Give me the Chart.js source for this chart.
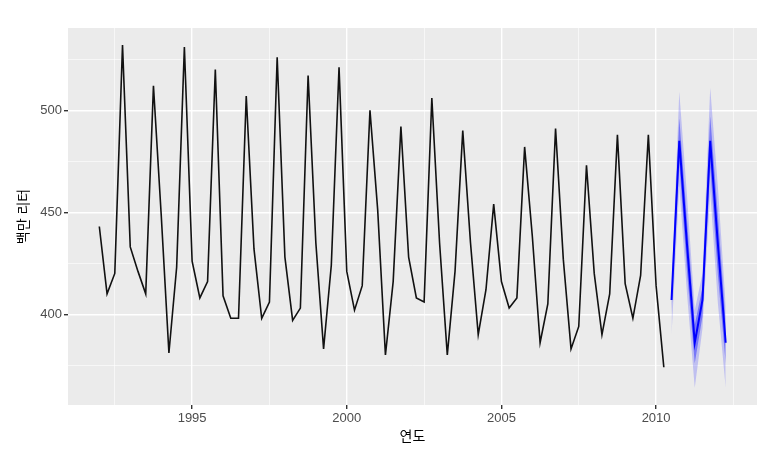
<!DOCTYPE html>
<html>
<head>
<meta charset="utf-8">
<script src="https://cdn.jsdelivr.net/npm/chart.js@4"></script>
<style>
  html, body { margin: 0; padding: 0; background: #fff; }
  #wrap { width: 773px; height: 460px; }
</style>
</head>
<body>
<div id="wrap"><canvas id="chart" width="773" height="460"></canvas></div>
<script>
// 호주 맥주 생산량, 분기별 (1992 Q1 ~ 2010 Q2)
const startYear = 1992;
const beer = [
  443, 410, 420, 532,
  433, 421, 410, 512,
  449, 381, 423, 531,
  426, 408, 416, 520,
  409, 398, 398, 507,
  432, 398, 406, 526,
  428, 397, 403, 517,
  435, 383, 424, 521,
  421, 402, 414, 500,
  451, 380, 416, 492,
  428, 408, 406, 506,
  435, 380, 421, 490,
  435, 390, 412, 454,
  416, 403, 408, 482,
  438, 386, 405, 491,
  427, 383, 394, 473,
  420, 390, 410, 488,
  415, 398, 419, 488,
  414, 374
];

// 예측 (2010 Q3 ~ 2012 Q2)
const fcTime = [2010.5, 2010.75, 2011.0, 2011.25, 2011.5, 2011.75, 2012.0, 2012.25];
const fcMean = [407, 485, 434, 386, 407, 485, 434, 386];
const fcInnerHi = [410, 496, 446, 395, 413, 497, 448, 396];
const fcInnerLo = [401, 474, 421, 376, 399, 472, 419, 376];
const fcOuterHi = [413, 509, 458, 402, 420, 511, 462, 404];
const fcOuterLo = [390, 463, 410, 364, 393, 460, 405, 364];

const xTicks = [1992.5, 1995, 1997.5, 2000, 2002.5, 2005, 2007.5, 2010, 2012.5];
const yTicks = [375, 400, 425, 450, 475, 500, 525];

const isMajorX = (v) => Number.isInteger(v) && v % 5 === 0;
const isMajorY = (v) => v % 50 === 0;

const beerPts = beer.map((v, i) => ({ x: startYear + i / 4, y: v }));
const pts = (arr) => arr.map((v, i) => ({ x: fcTime[i], y: v }));

const panelBg = {
  id: "panelBg",
  beforeDraw(chart) {
    const { ctx, chartArea: a } = chart;
    ctx.save();
    ctx.fillStyle = "#fff";
    ctx.fillRect(0, 0, chart.width, chart.height);
    ctx.fillStyle = "#EBEBEB";
    ctx.fillRect(a.left, a.top, a.right - a.left, a.bottom - a.top);
    ctx.restore();
  },
};

const fontFamily = '"Liberation Sans", "Noto Sans CJK KR", sans-serif';

function band(data, fill, color) {
  return { data, fill, backgroundColor: color, borderWidth: 0, pointRadius: 0, tension: 0 };
}

new Chart(document.getElementById("chart"), {
  type: "line",
  data: {
    datasets: [
      { data: pts(fcMean), borderColor: "#0000FF", borderWidth: 2, pointRadius: 0, fill: false, tension: 0 },
      { data: beerPts, borderColor: "#111", borderWidth: 1.6, pointRadius: 0, fill: false, tension: 0 },
      band(pts(fcInnerHi), "+1", "rgba(30,30,255,0.45)"),
      band(pts(fcInnerLo), false, "transparent"),
      band(pts(fcOuterHi), "+1", "rgba(60,60,255,0.25)"),
      band(pts(fcOuterLo), false, "transparent"),
    ],
  },
  options: {
    responsive: false,
    animation: false,
    events: [],
    layout: { padding: { left: 0, right: 16, top: 28, bottom: 0 } },
    plugins: { legend: { display: false }, tooltip: { enabled: false } },
    scales: {
      x: {
        type: "linear",
        min: 1990.9875,
        max: 2013.2625,
        afterBuildTicks: (s) => { s.ticks = xTicks.map((v) => ({ value: v })); },
        afterFit: (s) => { s.height = 55; },
        border: { display: false },
        grid: {
          color: "#fff",
          lineWidth: (c) => (isMajorX(c.tick.value) ? 1.4 : 0.6),
          tickColor: (c) => (isMajorX(c.tick.value) ? "#333" : "transparent"),
          tickLength: 4,
        },
        ticks: {
          padding: 2,
          color: "#4D4D4D",
          font: { family: fontFamily, size: 13 },
          maxRotation: 0,
          autoSkip: false,
          callback: (v) => (isMajorX(v) ? String(v) : ""),
        },
        title: {
          display: true,
          text: "연도",
          color: "#000",
          font: { family: fontFamily, size: 14 },
          padding: { top: 0, bottom: 14 },
        },
      },
      y: {
        type: "linear",
        min: 355.5,
        max: 540.3,
        afterBuildTicks: (s) => { s.ticks = yTicks.map((v) => ({ value: v })); },
        afterFit: (s) => { s.width = 68; },
        border: { display: false },
        grid: {
          color: "#fff",
          lineWidth: (c) => (isMajorY(c.tick.value) ? 1.4 : 0.6),
          tickColor: (c) => (isMajorY(c.tick.value) ? "#333" : "transparent"),
          tickLength: 4,
        },
        ticks: {
          padding: 2,
          color: "#4D4D4D",
          font: { family: fontFamily, size: 13 },
          autoSkip: false,
          callback: (v) => (isMajorY(v) ? String(v) : ""),
        },
        title: {
          display: true,
          text: "백만 리터",
          color: "#000",
          font: { family: fontFamily, size: 14 },
          padding: { top: 16, bottom: 0 },
        },
      },
    },
  },
  plugins: [panelBg],
});
</script>
</body>
</html>
